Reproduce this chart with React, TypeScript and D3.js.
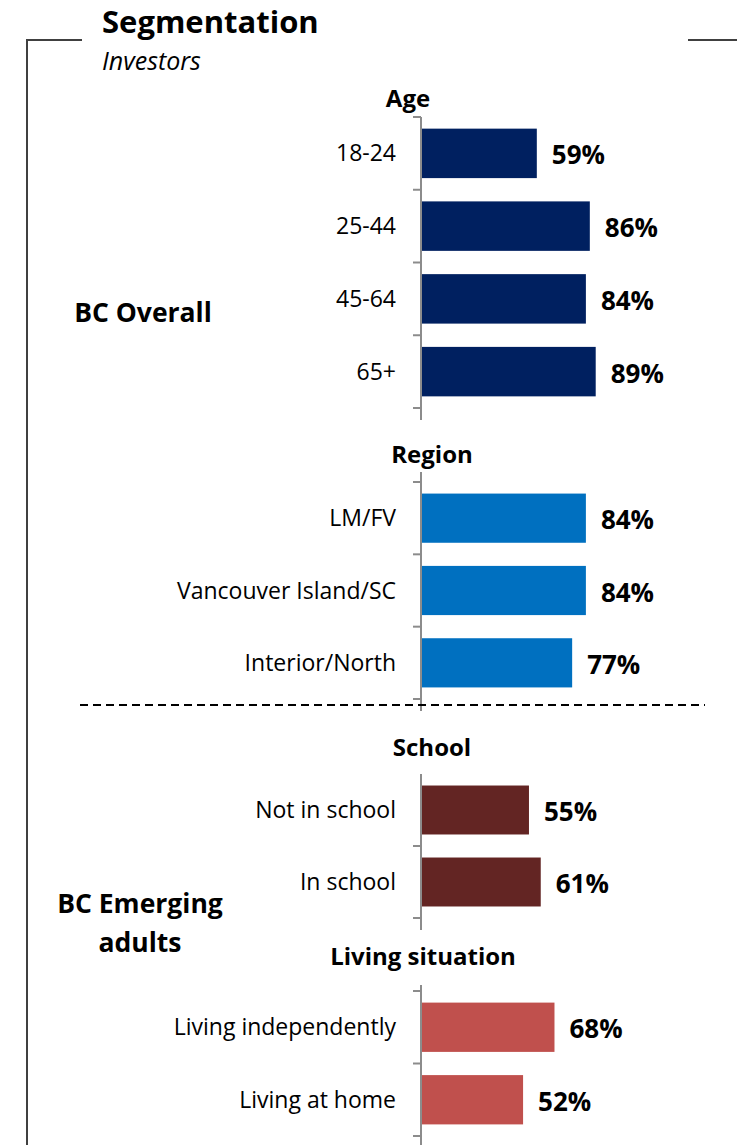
import React, { useRef, useEffect } from 'react';
import * as d3 from 'd3';

// Data
const ageLabels = ['18-24', '25-44', '45-64', '65+'];
const ageValues = [59, 86, 84, 89];
const regionLabels = ['LM/FV', 'Vancouver Island/SC', 'Interior/North'];
const regionValues = [84, 84, 77];
const schoolLabels = ['Not in school', 'In school'];
const schoolValues = [55, 61];
const livingLabels = ['Living independently', 'Living at home'];
const livingValues = [68, 52];

const groupTitles = ['Age', 'Region', 'School', 'Living situation'];
const groupColors = ['#002060', '#0070C0', '#632523', '#C0504D'];

const WIDTH = 737;
const HEIGHT = 1145;
const FONT = '"Open Sans", Lato, sans-serif';

const App: React.FC = () => {
  const svgRef = useRef<SVGSVGElement>(null);

  useEffect(() => {
    if (!svgRef.current) return;
    const svg = d3.select(svgRef.current);
    svg.selectAll('*').remove();

    const x0 = 421;
    const xScale = d3.scaleLinear().domain([0, 100]).range([x0, x0 + 196.3]);

    // each group: axis segment (top/bottom) and header position
    const groups = [
      { labels: ageLabels, values: ageValues, top: 117, bottom: 408, lineTop: 117, headerX: 408, headerY: 107 },
      { labels: regionLabels, values: regionValues, top: 482, bottom: 699, lineTop: 472, headerX: 432, headerY: 463 },
      { labels: schoolLabels, values: schoolValues, top: 774, bottom: 918, lineTop: 774, headerX: 432, headerY: 756 },
      { labels: livingLabels, values: livingValues, top: 991, bottom: 1136, lineTop: 985, headerX: 423, headerY: 965 },
    ];

    // Frame
    const frame = svg.append('g').attr('stroke', '#404040').attr('stroke-width', 2).attr('fill', 'none');
    frame.append('path').attr('d', `M82,40 H27 V${HEIGHT}`);
    frame.append('path').attr('d', `M688,40 H${WIDTH}`);

    // Title
    svg.append('text')
      .attr('x', 102).attr('y', 33)
      .attr('font-family', FONT).attr('font-weight', 'bold').attr('font-size', 31)
      .attr('fill', '#000')
      .text('Segmentation');
    svg.append('text')
      .attr('x', 102).attr('y', 70)
      .attr('font-family', FONT).attr('font-style', 'italic').attr('font-size', 25)
      .attr('fill', '#000')
      .text('Investors');

    groups.forEach((grp, gi) => {
      const yScale = d3.scaleBand<string>()
        .domain(grp.labels)
        .range([grp.top, grp.bottom])
        .paddingInner(0.32)
        .paddingOuter(0.16);

      const g = svg.append('g');

      // header
      g.append('text')
        .attr('x', grp.headerX).attr('y', grp.headerY)
        .attr('text-anchor', 'middle')
        .attr('font-family', FONT).attr('font-weight', 'bold').attr('font-size', 24)
        .text(groupTitles[gi]);

      // axis segment
      g.append('line')
        .attr('x1', x0).attr('x2', x0)
        .attr('y1', grp.lineTop).attr('y2', grp.bottom + 12)
        .attr('stroke', '#8c8c8c').attr('stroke-width', 2);

      const step = yScale.step();
      const ticks = d3.range(grp.labels.length + 1).map((i) => grp.top + i * step);
      g.selectAll('.tick')
        .data(gi === 2 ? ticks.slice(1) : ticks)
        .enter()
        .append('line')
        .attr('x1', x0 - 8).attr('x2', x0)
        .attr('y1', (d) => d).attr('y2', (d) => d)
        .attr('stroke', '#8c8c8c').attr('stroke-width', 2);

      // bars
      g.selectAll('.bar')
        .data(grp.values)
        .enter()
        .append('rect')
        .attr('x', x0 + 1)
        .attr('y', (d, i) => yScale(grp.labels[i]) || 0)
        .attr('width', (d) => xScale(d) - x0 - 1)
        .attr('height', yScale.bandwidth())
        .attr('fill', groupColors[gi]);

      // value labels
      g.selectAll('.val')
        .data(grp.values)
        .enter()
        .append('text')
        .attr('x', (d) => xScale(d) + 15)
        .attr('y', (d, i) => (yScale(grp.labels[i]) || 0) + yScale.bandwidth() / 2 + 11)
        .attr('font-family', FONT).attr('font-weight', 'bold').attr('font-size', 26)
        .text((d) => `${d}%`);

      // category labels
      g.selectAll('.cat')
        .data(grp.labels)
        .enter()
        .append('text')
        .attr('x', 396)
        .attr('y', (d) => (yScale(d) || 0) + yScale.bandwidth() / 2 + 8)
        .attr('text-anchor', 'end')
        .attr('font-family', FONT).attr('font-size', 23)
        .text((d) => d);
    });

    // Separator
    svg.append('line')
      .attr('x1', 80).attr('x2', 705)
      .attr('y1', 705).attr('y2', 705)
      .attr('stroke', '#000').attr('stroke-width', 2)
      .attr('stroke-dasharray', '8,5');

    // Segment labels
    const seg = svg.append('g')
      .attr('font-family', FONT).attr('font-weight', 'bold').attr('font-size', 26.5)
      .attr('text-anchor', 'middle');
    seg.append('text').attr('x', 143).attr('y', 322).text('BC Overall');
    seg.append('text').attr('x', 140).attr('y', 913).text('BC Emerging');
    seg.append('text').attr('x', 140).attr('y', 952).text('adults');
  }, []);

  return (
    <svg
      ref={svgRef}
      width={WIDTH}
      height={HEIGHT}
      style={{ position: 'absolute', left: 0, top: 0, background: '#fff' }}
    />
  );
};

export default App;
